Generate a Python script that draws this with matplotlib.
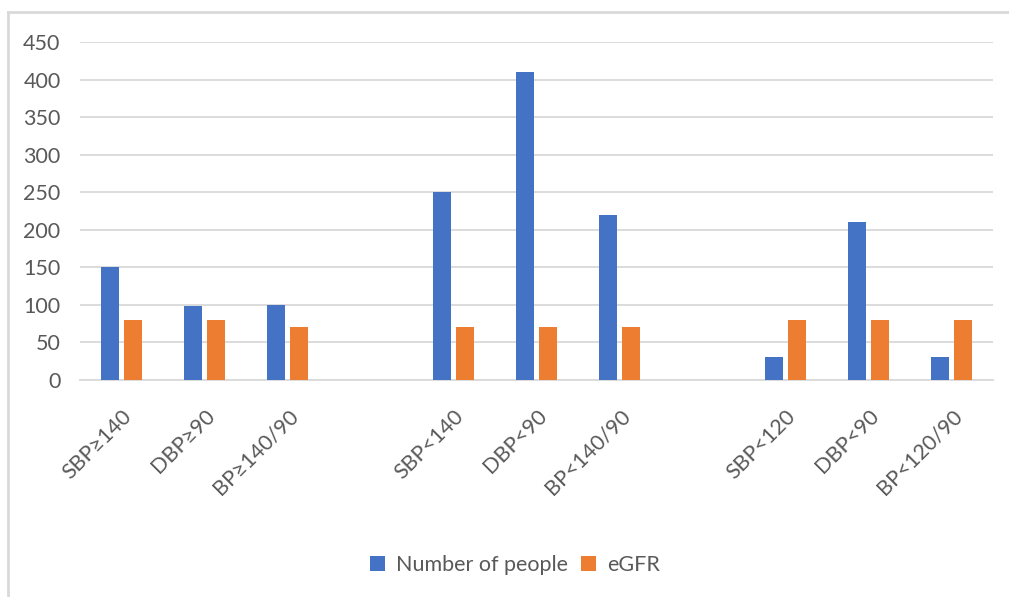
import matplotlib
matplotlib.use("Agg")
import matplotlib.pyplot as plt
from matplotlib.lines import Line2D
import numpy as np

categories = ["SBP≥140", "DBP≥90", "BP≥140/90", "", "SBP<140", "DBP<90", "BP<140/90",
              "", "SBP<120", "DBP<90", "BP<120/90"]
people = [150, 98, 100, np.nan, 250, 410, 220, np.nan, 30, 210, 30]
egfr = [80, 80, 70, np.nan, 70, 70, 70, np.nan, 80, 80, 80]
series_names = ["Number of people", "eGFR"]
yticks = [0, 50, 100, 150, 200, 250, 300, 350, 400, 450]

plt.rcParams['font.family'] = ['Lato', 'DejaVu Sans']
text_color = "#595959"
blue = "#4472C4"
orange = "#ED7D31"

fig = plt.figure(figsize=(10.09, 5.97), dpi=100)
ax = fig.add_axes([80/1009, 1-380/597, 913/1009, 338/597])

x = np.arange(len(categories))
w = 0.217
off = 0.139
ax.bar(x - off, people, width=w, color=blue, label=series_names[0], zorder=3)
ax.bar(x + off, egfr, width=w, color=orange, label=series_names[1], zorder=3)

ax.set_xlim(-0.5, len(categories) - 0.5)
ax.set_ylim(0, 450)
ax.set_yticks(yticks)
ax.set_yticklabels([str(t) for t in yticks], fontsize=15.5, color=text_color)
ax.yaxis.grid(True, color="#D9D9D9", linewidth=1.3, zorder=0)
ax.set_axisbelow(True)
ax.tick_params(axis='y', length=0, pad=14)
ax.tick_params(axis='x', length=0, pad=10)
for s in ['top', 'right', 'left']:
    ax.spines[s].set_visible(False)
ax.spines['bottom'].set_color("#D9D9D9")
ax.spines['bottom'].set_linewidth(1.3)

ax.set_xticks(x)
ax.set_xticklabels(categories, rotation=45, ha='right', rotation_mode='anchor',
                   fontsize=15.5, color=text_color)
for lbl in ax.get_xticklabels():
    lbl.set_transform(lbl.get_transform() + matplotlib.transforms.ScaledTranslation(0/100, -12/100, fig.dpi_scale_trans))

leg = fig.legend(loc='center', bbox_to_anchor=(515/1009, 1-565/597), ncol=2, frameon=False,
                 fontsize=15.5, handlelength=0.7, handleheight=0.7, handletextpad=0.5,
                 columnspacing=0.6, labelcolor=text_color)

fig.add_artist(Line2D([8/1009, 1], [1-12/597, 1-12/597], color="#D9D9D9", linewidth=2, transform=fig.transFigure))
fig.add_artist(Line2D([8/1009, 8/1009], [0, 1-12/597], color="#D9D9D9", linewidth=2, transform=fig.transFigure))

fig.savefig("out.png", dpi=100, facecolor="white")
